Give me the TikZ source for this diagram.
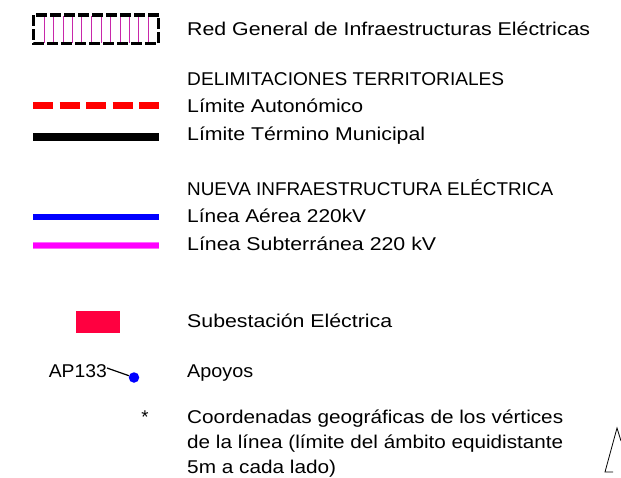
\documentclass[tikz,border=0pt]{standalone}
\usepackage{fontspec}
\usepackage{graphicx}
\setmainfont{Liberation Sans}
\definecolor{magline}{RGB}{255,0,255}
\definecolor{vline}{RGB}{200,40,170}
\definecolor{subred}{RGB}{255,0,64}
\newcommand{\fitw}[2]{\resizebox{#1pt}{\height}{#2}}
\begin{document}
\begin{tikzpicture}[x=1pt,y=-1pt,
  lbl/.style={anchor=base west,inner sep=0pt,font=\fontsize{18.5}{22}\selectfont},
  ]
\useasboundingbox (0,0) rectangle (621,477);
% Red General box
\foreach \xx in {44,53.3,63.3,72.7,81.7,91.7,101,110,120,129.3,138.3,148.3}
  \draw[vline,line width=1pt] (\xx,16) -- (\xx,43);
\draw[black,line width=3.5pt,dash pattern=on 11pt off 3pt] (33.5,15) rectangle (158.5,43.5);
\node[lbl] (t1) at (187,35) {\fitw{403}{Red General de Infraestructuras Eléctricas}};
% Delimitaciones
\node[lbl] (t2) at (187,85) {\fitw{317}{DELIMITACIONES TERRITORIALES}};
\coordinate (a1) at (33,105.5); \coordinate (a2) at (159,105.5);
\draw[red,line width=7.5pt,dash pattern=on 20pt off 6.5pt] (a1) -- (a2);
\node[lbl] (t3) at (187,112) {\fitw{176}{Límite Autonómico}};
\coordinate (b1) at (33,137); \coordinate (b2) at (159,137);
\draw[black,line width=8.5pt] (b1) -- (b2);
\node[lbl] (t4) at (187,140) {\fitw{238}{Límite Término Municipal}};
% Nueva infraestructura
\node[lbl] (t5) at (187,195) {\fitw{366}{NUEVA INFRAESTRUCTURA ELÉCTRICA}};
\coordinate (c1) at (33,217); \coordinate (c2) at (159,217);
\draw[blue,line width=6pt] (c1) -- (c2);
\node[lbl] (t6) at (187,222) {\fitw{179}{Línea Aérea 220kV}};
\coordinate (d1) at (33,245.5); \coordinate (d2) at (159,245.5);
\draw[magline!60,line width=7.5pt] (d1) -- (d2);
\draw[magline,line width=5pt] (d1) -- (d2);
\node[lbl] (t7) at (187,250) {\fitw{249}{Línea Subterránea 220 kV}};
% Subestacion
\fill[subred] (76,311) rectangle (120,333);
\node[lbl] (t8) at (187,327) {\fitw{205}{Subestación Eléctrica}};
% Apoyos
\node[inner sep=0pt,anchor=base east,font=\fontsize{18.5}{22}\selectfont] (ap) at (107,377) {\fitw{58}{AP133}};
\node[circle,fill=blue,inner sep=0pt,minimum size=10.5pt] (dot) at (134,377.5) {};
\coordinate (apend) at (107,368);
\draw[black,line width=1.2pt] (apend) -- (dot);
\node[lbl] (t9) at (187,377) {\fitw{66}{Apoyos}};
% Coordenadas
\node[inner sep=0pt,anchor=base,font=\fontsize{18.5}{22}\selectfont] (star) at (145,423) {*};
\node[lbl] (t10) at (187,423) {\fitw{376}{Coordenadas geográficas de los vértices}};
\node[lbl] (t11) at (187,448) {\fitw{376}{de la línea (límite del ámbito equidistante}};
\node[lbl] (t12) at (187,473) {\fitw{149}{5m a cada lado)}};
% partial shape bottom right
\coordinate (p1) at (617,428); \coordinate (p2) at (605,472); \coordinate (p3) at (613,472);
\draw[black,line width=0.8pt] (p3) -- (p2) -- (p1) -- (621,441);
\end{tikzpicture}
\end{document}
